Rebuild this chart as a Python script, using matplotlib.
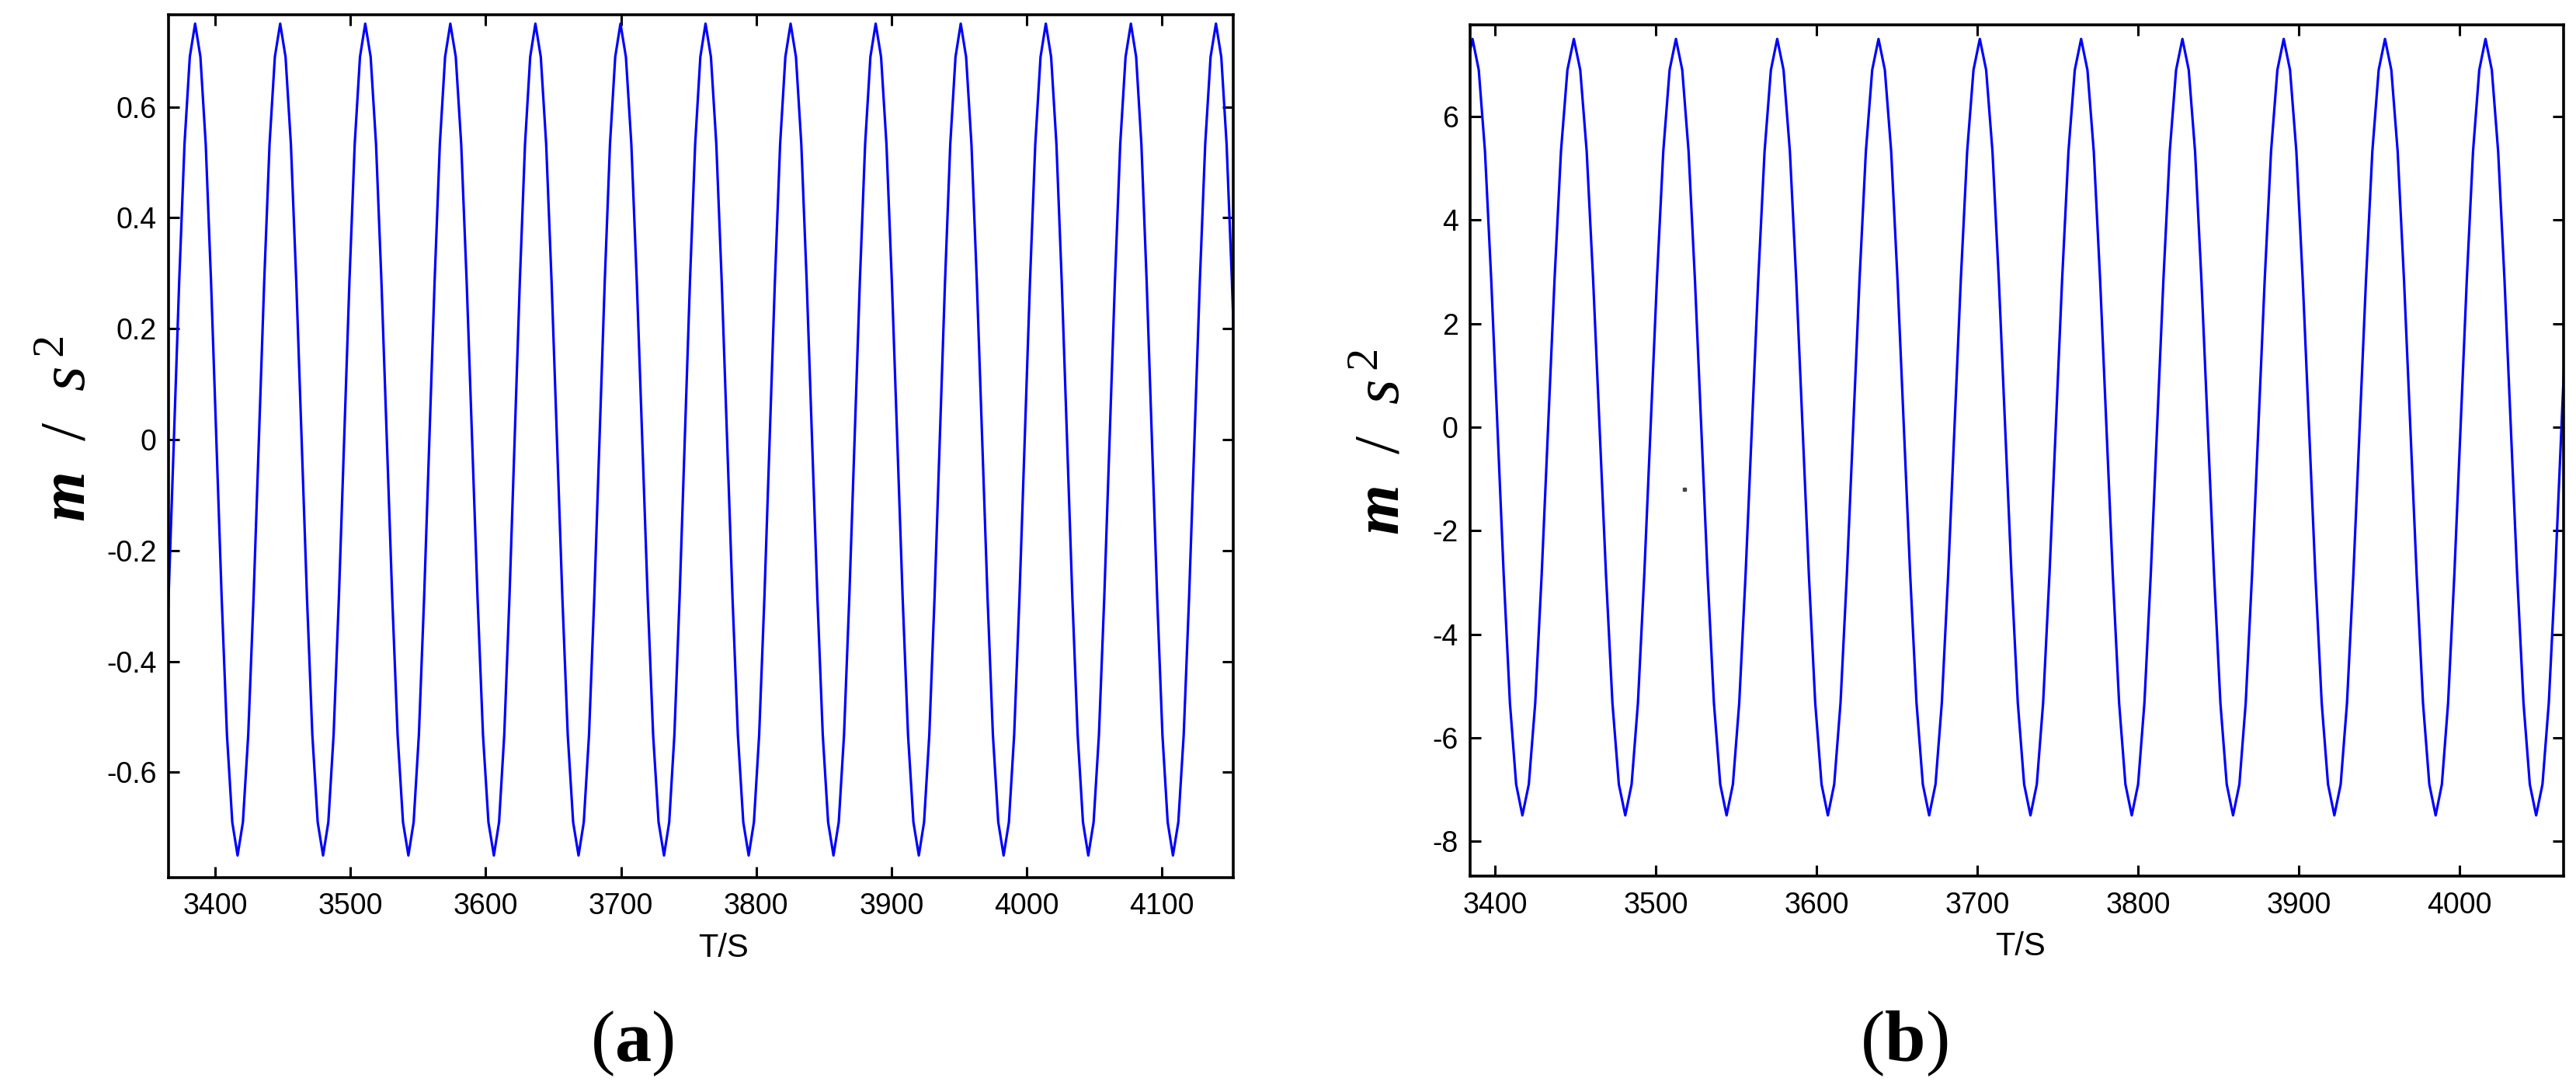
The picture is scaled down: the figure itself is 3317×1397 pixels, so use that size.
import numpy as np
import matplotlib
matplotlib.use('Agg')
import matplotlib.pyplot as plt

plt.rcParams['font.family'] = ['Liberation Sans', 'DejaVu Sans']
plt.rcParams['mathtext.fontset'] = 'custom'
plt.rcParams['mathtext.rm'] = 'Liberation Serif'
plt.rcParams['mathtext.it'] = 'Liberation Serif:italic'
plt.rcParams['mathtext.bf'] = 'Liberation Serif:bold'
plt.rcParams['mathtext.sf'] = 'Liberation Serif:bold:italic'

# panel (a): times of peaks / troughs, amplitude in m/s^2
a_peak_t = [3385.1, 3448.0, 3510.9, 3573.8, 3636.7, 3699.6, 3762.5, 3825.4,
            3888.3, 3951.2, 4014.1, 4077.0, 4139.9]
a_trough_t = [3353.7, 3416.5, 3479.7, 3542.8, 3606.0, 3668.6, 3731.8, 3794.4,
              3857.1, 3920.2, 3982.9, 4045.5, 4108.1, 4171.4]
a_amp = 0.75
a_xticks = [3400, 3500, 3600, 3700, 3800, 3900, 4000, 4100]
a_yticks = [-0.6, -0.4, -0.2, 0, 0.2, 0.4, 0.6]
a_ylabels = ['-0.6', '-0.4', '-0.2', '0', '0.2', '0.4', '0.6']

# panel (b)
b_peak_t = [3386.0, 3449.0, 3512.5, 3575.5, 3638.5, 3701.5, 3764.5, 3827.5,
            3890.5, 3953.5, 4016.0, 4079.0]
b_trough_t = [3354.5, 3417.0, 3481.0, 3544.0, 3607.0, 3670.0, 3733.0, 3796.0,
              3859.0, 3922.0, 3985.0, 4047.5]
b_amp = 7.5
b_xticks = [3400, 3500, 3600, 3700, 3800, 3900, 4000]
b_yticks = [-8, -6, -4, -2, 0, 2, 4, 6]
b_ylabels = ['-8', '-6', '-4', '-2', '0', '2', '4', '6']
# stray dot visible in panel (b)
b_dot_t = [3518]
b_dot_v = [-1.2]

# shape of one half swing (peak -> trough) as fraction of amplitude
half_shape = [1.0, 0.92, 0.71, 0.38, 0.0, -0.38, -0.71, -0.92, -1.0]


def build_trace(peaks, troughs, amp):
    ext = sorted([(t, amp) for t in peaks] + [(t, -amp) for t in troughs])
    ts, vs = [], []
    n = len(half_shape) - 1
    for (t0, v0), (t1, v1) in zip(ext[:-1], ext[1:]):
        sign = 1 if v0 > v1 else -1
        for k in range(n):
            ts.append(t0 + (t1 - t0) * k / n)
            vs.append(sign * amp * half_shape[k])
    ts.append(ext[-1][0])
    vs.append(ext[-1][1])
    return np.array(ts), np.array(vs)


def style_axis(ax, xticks, yticks, ylabels):
    ax.set_xticks(xticks)
    ax.set_yticks(yticks)
    ax.set_yticklabels(ylabels)
    ax.tick_params(direction='in', length=10, width=2.2, labelsize=27,
                   top=True, right=True, pad=11)
    ax.tick_params(axis='x', pad=14)
    for s in ax.spines.values():
        s.set_linewidth(2.6)
    ax.set_xlabel('T/S', fontsize=30)
    ax.set_ylabel(r'$\mathsf{m}\ \ /\ \ s^{\,2}$', fontsize=60)


fig = plt.figure(figsize=(33.17, 13.97), dpi=100)
ax1 = fig.add_axes([0.0654, 0.1911, 0.4133, 0.7953])
ax2 = fig.add_axes([0.5707, 0.1922, 0.4245, 0.7848])

ta, va = build_trace(a_peak_t, a_trough_t, a_amp)
tb, vb = build_trace(b_peak_t, b_trough_t, b_amp)

ax1.plot(ta, va, color='#0000ff', lw=2.3)
ax1.set_xlim(3365.4, 4152.6)
ax1.set_ylim(-0.79, 0.766)
style_axis(ax1, a_xticks, a_yticks, a_ylabels)
ax1.xaxis.set_label_coords(0.521, -0.064)
ax1.yaxis.set_label_coords(-0.066, 0.52)

ax2.plot(tb, vb, color='#0000ff', lw=2.3)
ax2.plot(b_dot_t, b_dot_v, 's', ms=2.5, color='#444444')
ax2.set_xlim(3384.5, 4064.6)
ax2.set_ylim(-8.68, 7.77)
style_axis(ax2, b_xticks, b_yticks, b_ylabels)
ax2.xaxis.set_label_coords(0.503, -0.064)
ax2.yaxis.set_label_coords(-0.053, 0.51)

fig.text(0.2454, 0.038, r'($\mathbf{a}$)', ha='center', va='center',
         fontsize=68, family='Liberation Serif')
fig.text(0.739, 0.038, r'($\mathbf{b}$)', ha='center', va='center',
         fontsize=68, family='Liberation Serif')

plt.savefig('out.png', dpi=100)
plt.close()
